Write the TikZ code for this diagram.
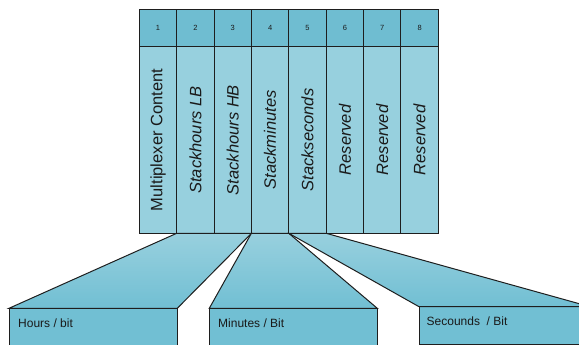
\documentclass[tikz,border=0pt]{standalone}
\usepackage{fontspec}
\setmainfont{Liberation Sans}
\usepackage{graphicx}
\usepackage{tikz}
\definecolor{headblue}{HTML}{6FBDD1}
\definecolor{bodyblue}{HTML}{97D0DE}
\definecolor{boxblue}{HTML}{71BFD3}
\definecolor{funneltop}{HTML}{98D0DE}
\definecolor{linegray}{HTML}{1E1E1E}
\definecolor{textgray}{HTML}{1A1A1A}
\tikzstyle{headcell}=[draw=linegray, fill=headblue, line width=1pt, minimum width=37.4pt, minimum height=37.4pt, inner sep=0pt, outer sep=0pt, text=textgray, font=\fontsize{7.5}{9}\selectfont]
\tikzstyle{bodycell}=[draw=linegray, fill=bodyblue, line width=1pt, minimum width=37.4pt, minimum height=186.6pt, inner sep=0pt, outer sep=0pt, text=textgray, font=\fontsize{16.5}{18}\selectfont\itshape]
\tikzstyle{outbox}=[draw=linegray, fill=boxblue, line width=1pt, inner sep=0pt, outer sep=0pt]
\tikzstyle{funnel}=[draw=linegray, line width=1pt, top color=funneltop, bottom color=boxblue]
\tikzstyle{boxtext}=[inner sep=0pt, text=textgray, font=\fontsize{12}{14}\selectfont]

\begin{document}
\begin{tikzpicture}[x=1pt, y=-1pt]
		   \clip (0, 0) rectangle (579, 345);
		   \begin{scope}
			   \node (h1) at (158.0, 28) [headcell] {1};
			   \node (h2) at (195.4, 28) [headcell] {2};
			   \node (h3) at (232.8, 28) [headcell] {3};
			   \node (h4) at (270.1, 28) [headcell] {4};
			   \node (h5) at (307.5, 28) [headcell] {5};
			   \node (h6) at (344.9, 28) [headcell] {6};
			   \node (h7) at (382.3, 28) [headcell] {7};
			   \node (h8) at (419.6, 28) [headcell] {8};

			   \node (b1) at (158.0, 140) [bodycell] {\rotatebox{90}{\upshape Multiplexer Content}};
			   \node (b2) at (195.4, 140) [bodycell] {\rotatebox{90}{Stackhours LB}};
			   \node (b3) at (232.8, 140) [bodycell] {\rotatebox{90}{Stackhours HB}};
			   \node (b4) at (270.1, 140) [bodycell] {\rotatebox{90}{Stackminutes}};
			   \node (b5) at (307.5, 140) [bodycell] {\rotatebox{90}{Stackseconds}};
			   \node (b6) at (344.9, 140) [bodycell] {\rotatebox{90}{Reserved}};
			   \node (b7) at (382.3, 140) [bodycell] {\rotatebox{90}{Reserved}};
			   \node (b8) at (419.6, 140) [bodycell] {\rotatebox{90}{Reserved}};

			   \node (hours) at (93.15, 334.3) [outbox, minimum width=168.3pt, minimum height=52pt] {};
			   \node (minutes) at (293.3, 334.3) [outbox, minimum width=168pt, minimum height=52pt] {};
			   \node (seconds) at (504.5, 325.5) [outbox, minimum width=171pt, minimum height=37.6pt] {};
		   \end{scope}
		   \begin{scope}
			   \path [funnel] (b2.south west) -- (b3.south east) -- (hours.north east) -- (hours.north west) -- cycle;
			   \path [funnel] (b4.south west) -- (b4.south east) -- (minutes.north east) -- (minutes.north west) -- cycle;
			   \path [funnel] (b5.south west) -- (b5.south east) -- (seconds.north east) -- (seconds.north west) -- cycle;

			   \node (hourslabel) at (18, 327.7) [boxtext, anchor=base west] {Hours / bit};
			   \node (minuteslabel) at (218, 327.7) [boxtext, anchor=base west] {Minutes / Bit};
			   \node (secondslabel) at (426.5, 325.5) [boxtext, anchor=base west] {Secounds~~/ Bit};
		   \end{scope}
\end{tikzpicture}
\end{document}
